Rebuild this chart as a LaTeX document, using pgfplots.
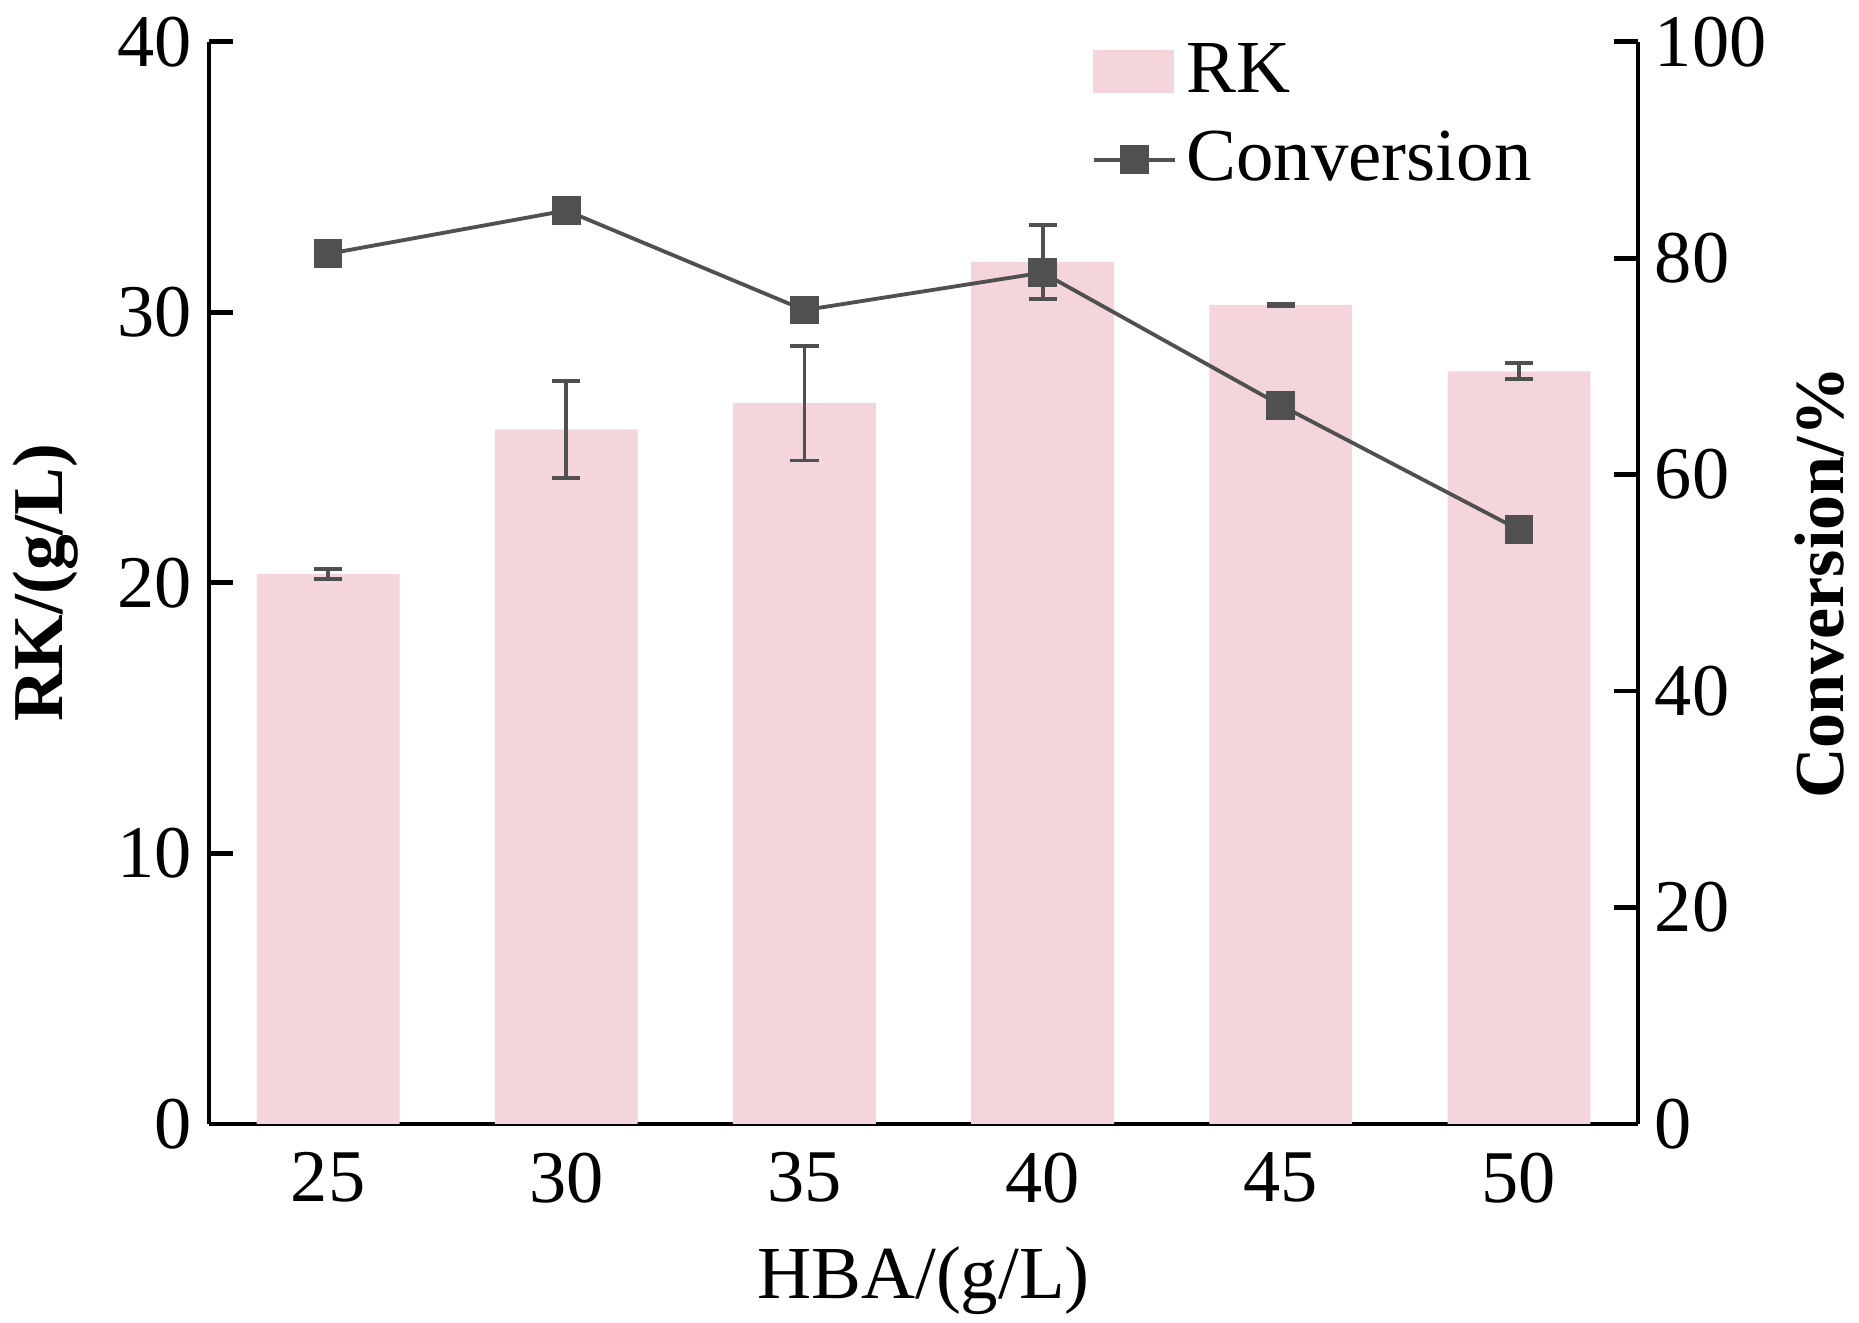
\documentclass[border=0pt]{standalone}
\usepackage{pgfplots}
\pgfplotsset{compat=1.18}
\usepackage{fontspec}
\setmainfont{Liberation Serif}
\definecolor{barpink}{RGB}{244,213,219}
\definecolor{linegray}{RGB}{80,80,80}
\begin{document}
\begin{tikzpicture}
\pgfplotsset{
  base/.style={
    scale only axis, width=299.8pt, height=227.06pt,
    xmin=-0.5, xmax=5.5,
    /pgf/number format/assume math mode=true,
    tick label style={font=\fontsize{15.6}{18}\selectfont},
    label style={font=\fontsize{15.7}{18}\selectfont},
    axis line style={-, line width=1pt},
    major tick length=5pt,
    tick style={line width=1pt, black},
    tick align=inside,
  }
}
\begin{axis}[base,
  axis y line*=left, axis x line*=bottom,
  ymin=0, ymax=40, ytick={0,10,20,30,40},
  xtick={0,1,2,3,4,5}, xticklabels={25,30,35,40,45,50},
  x tick style={draw=none},
  xticklabel style={yshift=-2.5pt},
  xlabel={HBA/(g/L)}, ylabel={RK/(g/L)},
  xlabel style={at={(axis description cs:0.5,-0.145)}, anchor=center},
  ylabel style={at={(axis description cs:-0.1147,0.5)}, anchor=center,
    font=\fontsize{15}{18}\selectfont\bfseries},
]
\addplot[ybar, bar width=0.6, fill=barpink, draw=none,
  error bars/.cd, y dir=both, y explicit,
  error bar style={line width=0.8pt, linegray},
  error mark options={rotate=90, mark size=2.95pt, line width=0.8pt, linegray}]
  coordinates {
  (0,20.33) +- (0,0.18)
  (1,25.67) +- (0,1.78)
  (2,26.64) +- (0,2.12)
  (3,31.86) +- (0,1.37)
  (4,30.27) +- (0,0.05)
  (5,27.82) +- (0,0.30)
  };
\end{axis}
\begin{axis}[base,
  axis y line*=right, axis x line=none,
  ymin=0, ymax=100, ytick={0,20,40,60,80,100},
  ylabel={Conversion/\%},
  ylabel style={at={(axis description cs:1.1274,0.5)}, anchor=center,
    font=\fontsize{14.7}{18}\selectfont\bfseries},
  legend style={draw=none, fill=none, at={(0.607,1.017)}, anchor=north west,
    font=\fontsize{15.7}{18}\selectfont, row sep=2.7pt,
    /tikz/every even column/.append style={column sep=0pt}},
  legend cell align=left,
]
\addlegendimage{legend image code/.code={\fill[barpink] (0pt,-4.25pt) rectangle (16.75pt,4.25pt);}}
\addlegendentry{RK}
\addplot[linegray, line width=0.8pt, mark=square*, mark size=2.62pt,
  mark options={fill=linegray, draw=linegray}]
  coordinates {
  (0,80.4)
  (1,84.4)
  (2,75.2)
  (3,78.66)
  (4,66.4)
  (5,54.9)
  };
\addlegendentry{Conversion}
\end{axis}
\pgfresetboundingbox
\path (-43.85pt,-41.75pt) rectangle (346.16pt,235.81pt);
\end{tikzpicture}
\end{document}
